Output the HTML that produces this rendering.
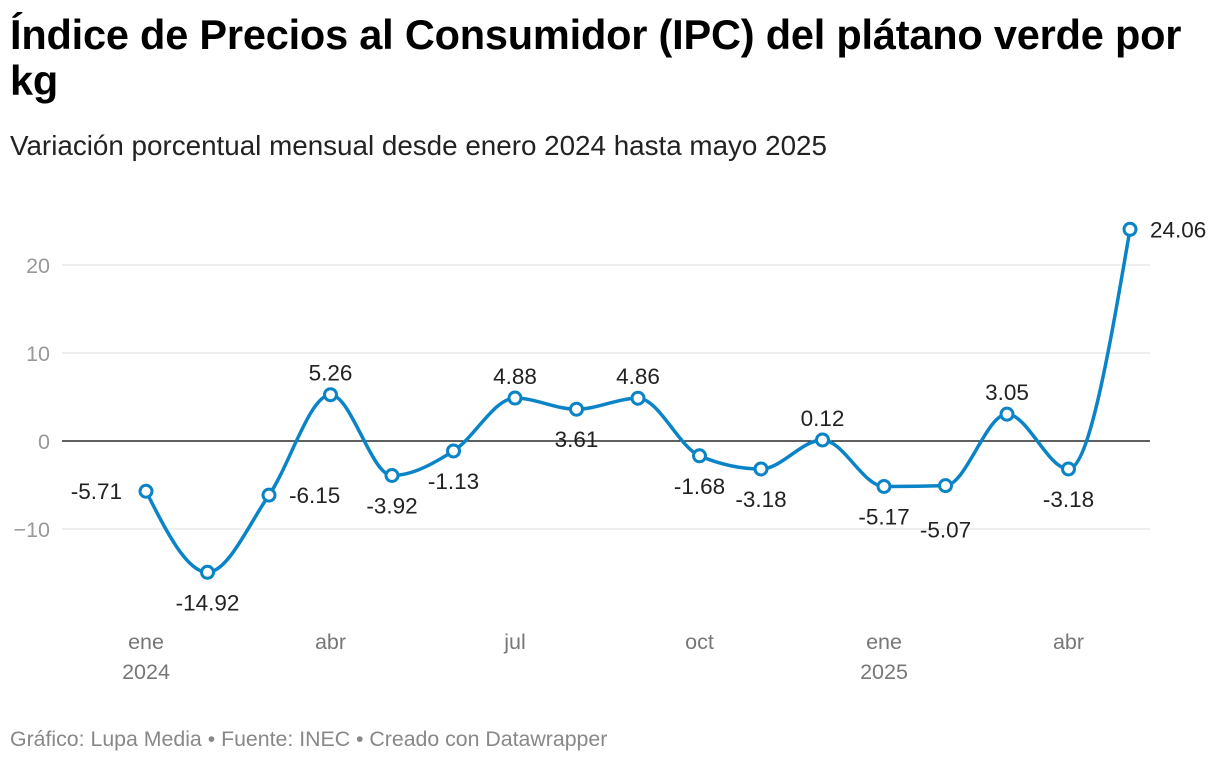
<!DOCTYPE html>
<html><head><meta charset="utf-8">
<style>
body{margin:0;width:1220px;height:762px;background:#fff;font-family:"Liberation Sans",sans-serif;overflow:hidden}
h1{position:absolute;left:10px;top:12px;margin:0;font-size:41.5px;line-height:46px;font-weight:bold;color:#000;width:1195px;letter-spacing:-0.2px}
.sub{position:absolute;left:10px;top:130px;font-size:27.8px;color:#222}
.foot{position:absolute;left:10px;top:727px;font-size:21.3px;color:#888}
svg{position:absolute;left:0;top:0}
</style></head><body>
<h1>Índice de Precios al Consumidor (IPC) del plátano verde por kg</h1>
<div class="sub">Variación porcentual mensual desde enero 2024 hasta mayo 2025</div>
<svg id="chart" width="1220" height="762"></svg>
<div class="foot">Gráfico: Lupa Media • Fuente: INEC • Creado con Datawrapper</div>
<script>
const months = ["2024-01","2024-02","2024-03","2024-04","2024-05","2024-06","2024-07","2024-08","2024-09","2024-10","2024-11","2024-12","2025-01","2025-02","2025-03","2025-04","2025-05"];
const values = [-5.71,-14.92,-6.15,5.26,-3.92,-1.13,4.88,3.61,4.86,-1.68,-3.18,0.12,-5.17,-5.07,3.05,-3.18,24.06];
const yTicks = [-10,0,10,20];
const xTickIdx = [0,3,6,9,12,15];
const xTickLabels = [["ene","2024"],["abr",""],["jul",""],["oct",""],["ene","2025"],["abr",""]];
const labelPos = ["l","b","r","t","b","b","t","b","t","b","b","t","b","bb","t","b","r"];

const svg=document.getElementById('chart');const NS='http://www.w3.org/2000/svg';
const x=i=>146+i*61.5;
const y=v=>441-v*8.8;
function mk(t,a,txt){const e=document.createElementNS(NS,t);for(const k in a)e.setAttribute(k,a[k]);if(txt!==undefined)e.textContent=txt;svg.appendChild(e);return e;}
yTicks.forEach(t=>{
  const g=mk('line',{x1:62,x2:1150,y1:y(t),y2:y(t),stroke:t===0?'#000':'#ddd','stroke-width':t===0?1.3:1});
  
  
  const l=mk('text',{x:50,y:y(t)+8,'text-anchor':'end','font-size':21.5,fill:'#999'},t<0?'−'+Math.abs(t):String(t));
  
  
});
xTickIdx.forEach((idx,j)=>{
  const [a,b]=xTickLabels[j];
  const t=mk('text',{x:x(idx),y:649,'text-anchor':'middle','font-size':21.5,fill:'#777'},a);
  
  
  if(b){const t2=mk('text',{x:x(idx),y:679,'text-anchor':'middle','font-size':21.5,fill:'#777'},b);
  
  }
});
const n=values.length,px=values.map((v,i)=>x(i)),py=values.map(y);
const d=[],m=[];for(let i=0;i<n-1;i++)d.push((py[i+1]-py[i])/(px[i+1]-px[i]));
for(let i=0;i<n;i++){
  if(i===0)m.push(d[0]);else if(i===n-1)m.push(d[n-2]);
  else{const a=d[i-1],b=d[i];if(a*b<=0)m.push(0);else{const h0=px[i]-px[i-1],h1=px[i+1]-px[i];const p=(a*h1+b*h0)/(h0+h1);m.push((Math.sign(a)+Math.sign(b))*Math.min(Math.abs(a),Math.abs(b),0.5*Math.abs(p)));}}
}
m[0]=(3*d[0]-m[1])/2;m[n-1]=(3*d[n-2]-m[n-2])/2;
let path='M'+px[0]+','+py[0];
for(let i=0;i<n-1;i++){const h=(px[i+1]-px[i])/3;path+=` C${px[i]+h},${py[i]+m[i]*h} ${px[i+1]-h},${py[i+1]-m[i+1]*h} ${px[i+1]},${py[i+1]}`;}
const ln=mk('path',{d:path,fill:'none',stroke:'#0a84c6','stroke-width':3.5});


values.forEach((v,i)=>{
  const c=mk('circle',{cx:px[i],cy:py[i],r:6,fill:'#fff',stroke:'#0a84c6','stroke-width':3});
  
  
  const p=labelPos[i];let tx=px[i],ty=py[i],an='middle';
  if(p==='t')ty-=14;else if(p==='b')ty+=38;else if(p==='bb')ty+=52;else if(p==='l'){tx-=24;ty+=8;an='end';}else{tx+=20;ty+=8;an='start';}
  const t=mk('text',{x:tx,y:ty,'text-anchor':an,'font-size':22.5,fill:'#222'},v.toFixed(2));
  
  
});
</script>
</body></html>
